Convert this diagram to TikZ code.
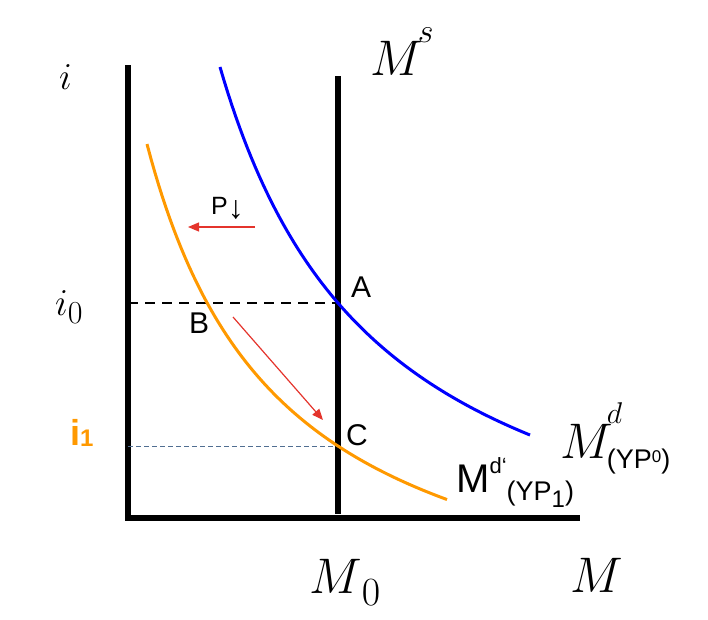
\RequirePackage{fix-cm}
\documentclass[tikz,border=0pt]{standalone}
\usepackage{fontspec}
\setsansfont{Liberation Sans}
\usepackage{tikz}
\usetikzlibrary{arrows.meta}
\usepackage{xcolor}
\newcommand{\fsz}[1]{\fontsize{#1}{#1}\selectfont}
\definecolor{mdorange}{RGB}{255,153,0}
\definecolor{shiftred}{RGB}{228,52,44}
\definecolor{guideblue}{RGB}{80,110,145}

\begin{document}
\begin{tikzpicture}[x=1pt,y=-1pt,
    axis/.style={line width=6pt},
    demand/.style={line width=3pt},
    shiftarrow/.style={shiftred,line width=1.2pt,-{Triangle[length=11pt,width=9pt]}},
    lbl/.style={inner sep=0pt,anchor=base west},
  ]
  \useasboundingbox (0,0) rectangle (708,619);
  % axes and money supply
  \coordinate (top) at (128,65);
  \coordinate (O) at (128,518);
  \coordinate (right) at (580,518);
  \draw[axis] (top) -- (O) -- (right);
  \coordinate (stop) at (338,76);
  \coordinate (sbot) at (338,514);
  \draw[axis] (stop) -- (sbot);
  % equilibria
  \coordinate (A) at (338,303);
  \coordinate (C) at (338,446);
  \coordinate (iA) at (128,303);
  \coordinate (iC) at (128,446);
  \draw[line width=2.5pt,dash pattern=on 10pt off 7pt] (iA) -- (A);
  \draw[guideblue,line width=0.8pt,dash pattern=on 5pt off 3pt] (iC) -- (C);
  % demand curves (hyperbolas)
  \draw[demand,blue] plot[domain=220:530,samples=80] (\x,{627.8-910.76/((\x-57.6)/100)});
  \draw[demand,mdorange] plot[domain=147:447,samples=80] (\x,{659.5-695.87/((\x-12)/100)});
  % shifts
  \coordinate (pfrom) at (255,227);
  \coordinate (pto) at (188,227);
  \draw[shiftarrow] (pfrom) -- (pto);
  \coordinate (bfrom) at (233,317);
  \coordinate (cto) at (323,420);
  \draw[shiftarrow] (bfrom) -- (cto);
  % labels
  \node[lbl] (ilab) at (59,89) {\fsz{38}$i$};
  \node[lbl] (i0) at (55,315) {\fsz{38}$i$\raisebox{-8pt}{\fsz{32}$0$}};
  \node[lbl,text=mdorange] (i1) at (70,445) {\fsz{36}\sffamily\bfseries i\raisebox{-1pt}{\fsz{24}1}};
  \node[lbl] (Alab) at (351,297) {\fsz{30}\sffamily A};
  \node[lbl] (Blab) at (189,333) {\fsz{30}\sffamily B};
  \node[lbl] (Clab) at (346,445) {\fsz{30}\sffamily C};
  \node[lbl] (Plab) at (211,214) {\fsz{25}\sffamily P\raisebox{-4pt}{\fsz{32}↓}};
  \node[lbl] (Ms) at (370,75) {\fsz{50}$M$\hspace{-5pt}\raisebox{33pt}{\fsz{34}$s$}};
  \node[lbl] (Md0) at (560,458) {\fsz{50}$M$\hspace{-6pt}\makebox[0pt][l]{\raisebox{35pt}{\fsz{30}$d$}}\raisebox{-10pt}{\fsz{27}\sffamily(YP\raisebox{6pt}{\fsz{17}0})}};
  \node[lbl] (Md1) at (456,492) {\fsz{40}\sffamily M\raisebox{19pt}{\fsz{22}d‘}\raisebox{-8pt}{\fsz{27}(YP\raisebox{-7pt}{\fsz{24}1})}};
  \node[lbl] (M0) at (309,593) {\fsz{50}$M$\raisebox{-12pt}{\fsz{40}$0$}};
  \node[lbl] (Mlab) at (570,592) {\fsz{50}$M$};
\end{tikzpicture}
\end{document}
